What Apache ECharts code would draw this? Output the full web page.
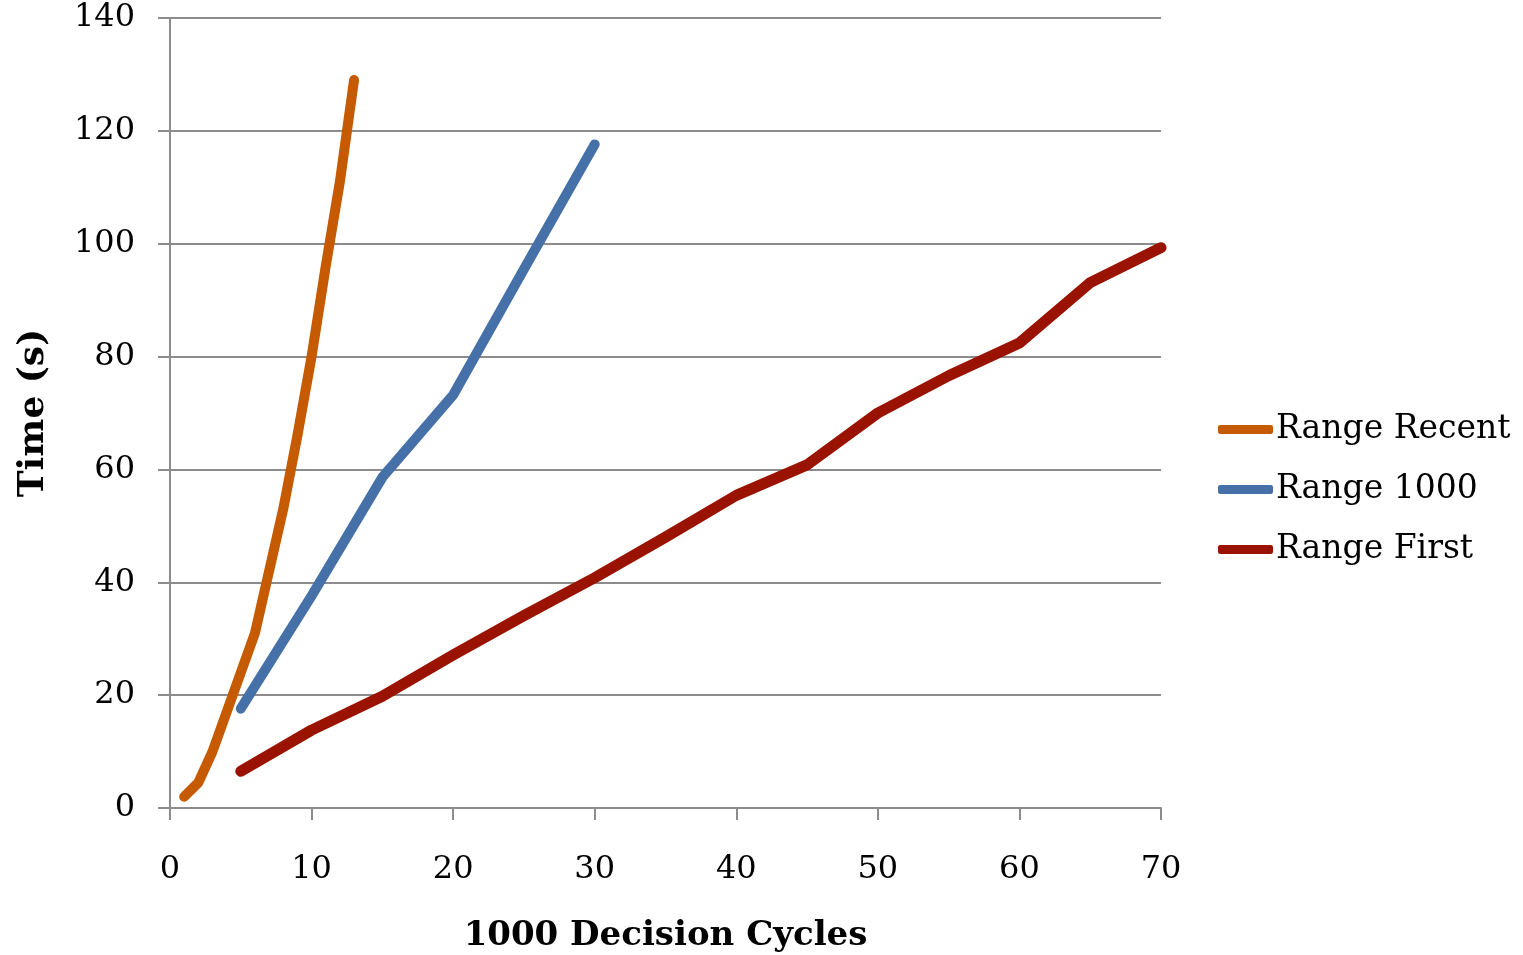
<!DOCTYPE html>
<html>
<head>
<meta charset="utf-8">
<script src="https://cdn.jsdelivr.net/npm/echarts@6/dist/echarts.min.js"></script>
<style>
  html, body { margin: 0; padding: 0; background: #fff; }
  #chart { width: 1523px; height: 955px; }
</style>
</head>
<body>
<div id="chart"></div>
<script>
// x = thousands of decision cycles, y = seconds
var recentX = [1, 2, 3, 4, 5, 6, 7, 8, 9, 10, 11, 12, 13]
var recentY = [2, 4.5, 10, 17, 24, 31, 42, 53, 66, 80, 96, 111, 129]

var k1000X = [5, 10, 15, 20, 25, 30]
var k1000Y = [17.6, 37.6, 58.6, 73.2, 95.5, 117.6]

var firstX = [5, 10, 15, 20, 25, 30, 35, 40, 45, 50, 55, 60, 65, 70]
var firstY = [6.5, 13.8, 19.8, 27.1, 34.1, 40.8, 48, 55.4, 60.8, 70, 76.6, 82.4, 93.1, 99.3]

var seriesNames = ['Range Recent', 'Range 1000', 'Range First']
var colors = ['#C55A00', '#4570A8', '#991300']

function pairs(xs, ys) {
  return xs.map(function (x, i) { return [x, ys[i]] })
}

var font = 'DejaVu Serif'
var chart = echarts.init(document.getElementById('chart'))

var option = {
  animation: false,
  backgroundColor: '#fff',
  grid: { left: 170, right: 362, top: 18, bottom: 147, containLabel: false, outerBoundsMode: 'none' },
  legend: {
    orient: 'vertical',
    left: 1213,
    top: 408,
    icon: 'roundRect',
    itemWidth: 55,
    itemHeight: 9,
    itemGap: 27,
    textStyle: { fontFamily: font, fontSize: 33, color: '#000', padding: [0, 0, 0, -2] },
    data: seriesNames
  },
  xAxis: {
    type: 'value',
    min: 0,
    max: 70,
    interval: 10,
    name: '1000 Decision Cycles',
    nameLocation: 'middle',
    nameGap: 111,
    nameTextStyle: { fontFamily: font, fontSize: 34, fontWeight: 'bold', color: '#000' },
    axisLine: { show: true, lineStyle: { color: '#8c8c8c', width: 2 } },
    axisTick: { show: true, length: 12, lineStyle: { color: '#8c8c8c', width: 2 } },
    axisLabel: { margin: 46, fontFamily: font, fontSize: 32, color: '#000' },
    splitLine: { show: false }
  },
  yAxis: {
    type: 'value',
    min: 0,
    max: 140,
    interval: 20,
    name: 'Time (s)',
    nameLocation: 'middle',
    nameGap: 118,
    nameRotate: 90,
    nameTextStyle: { fontFamily: font, fontSize: 36, fontWeight: 'bold', color: '#000' },
    axisLine: { show: true, lineStyle: { color: '#8c8c8c', width: 2 } },
    axisTick: { show: true, length: 12, lineStyle: { color: '#8c8c8c', width: 2 } },
    axisLabel: { margin: 35, fontFamily: font, fontSize: 32, color: '#000', padding: [4, 0, 0, 0] },
    splitLine: { show: true, lineStyle: { color: '#8c8c8c', width: 2 } }
  },
  series: [
    {
      name: seriesNames[0],
      type: 'line',
      data: pairs(recentX, recentY),
      showSymbol: false,
      symbol: 'none',
      color: colors[0],
      lineStyle: { width: 10, color: colors[0], cap: 'round', join: 'round' }
    },
    {
      name: seriesNames[1],
      type: 'line',
      data: pairs(k1000X, k1000Y),
      showSymbol: false,
      symbol: 'none',
      color: colors[1],
      lineStyle: { width: 10, color: colors[1], cap: 'round', join: 'round' }
    },
    {
      name: seriesNames[2],
      type: 'line',
      data: pairs(firstX, firstY),
      showSymbol: false,
      symbol: 'none',
      color: colors[2],
      lineStyle: { width: 11, color: colors[2], cap: 'round', join: 'round' }
    }
  ]
}

chart.setOption(option)
</script>
</body>
</html>
